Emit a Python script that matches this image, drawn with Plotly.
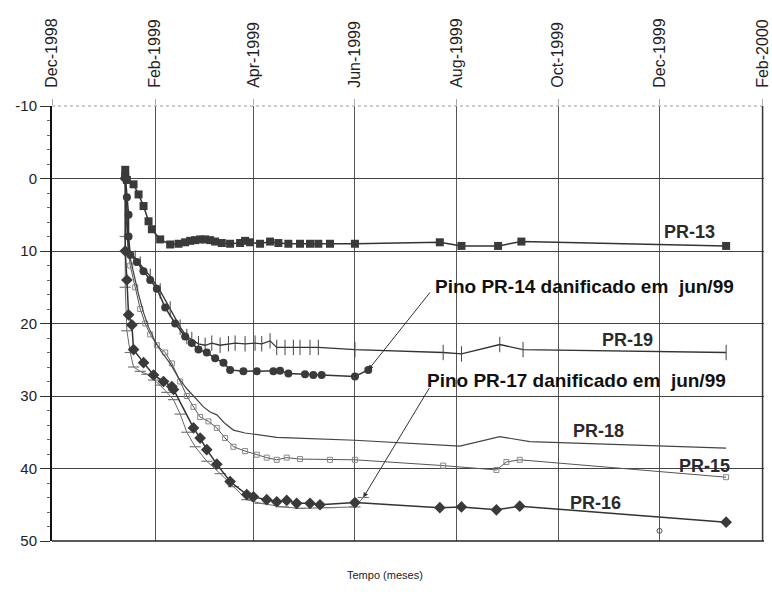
import plotly.graph_objects as go

# ---------------- data ----------------
tick_dates = ["1998-12-01", "1999-02-01", "1999-04-01", "1999-06-01",
              "1999-08-01", "1999-10-01", "1999-12-01", "2000-02-01"]
tick_labels = ["Dec-1998", "Feb-1999", "Apr-1999", "Jun-1999",
               "Aug-1999", "Oct-1999", "Dec-1999", "Feb-2000"]
y_ticks = [-10, 0, 10, 20, 30, 40, 50]
y_tick_labels = ["-10", "0", "10", "20", "30", "40", "50"]

pr13_x = ["1999-01-14", "1999-01-14", "1999-01-15", "1999-01-19", "1999-01-22", "1999-01-25",
          "1999-01-28", "1999-01-30", "1999-02-04", "1999-02-10", "1999-02-15", "1999-02-19",
          "1999-02-22", "1999-02-25", "1999-02-28", "1999-03-03", "1999-03-06", "1999-03-09",
          "1999-03-13", "1999-03-18", "1999-03-24", "1999-03-27", "1999-03-30", "1999-04-05",
          "1999-04-11", "1999-04-16", "1999-04-22", "1999-04-29", "1999-05-05", "1999-05-10",
          "1999-05-17", "1999-06-01", "1999-07-22", "1999-08-04", "1999-08-26", "1999-09-09",
          "2000-01-10"]
pr13_y = [-1.2, -0.3, 0.2, 0.8, 2.2, 3.8, 5.9, 7.0, 8.4, 9.1, 9.0, 8.8, 8.6, 8.5, 8.4, 8.4, 8.5,
          8.7, 8.9, 9.0, 8.9, 8.6, 8.8, 9.0, 8.7, 8.9, 9.0, 9.0, 9.0, 9.0, 9.0, 9.0, 8.8, 9.3,
          9.3, 8.7, 9.3]

pr14_x = ["1999-01-14", "1999-01-15", "1999-01-16", "1999-01-16", "1999-01-17", "1999-01-21",
          "1999-01-25", "1999-01-29", "1999-02-02", "1999-02-07", "1999-02-13", "1999-02-19",
          "1999-02-23", "1999-02-27", "1999-03-04", "1999-03-09", "1999-03-14", "1999-03-18",
          "1999-03-26", "1999-04-03", "1999-04-13", "1999-04-17", "1999-04-22", "1999-05-02",
          "1999-05-07", "1999-05-12", "1999-06-01", "1999-06-09"]
pr14_y = [-0.5, 2.6, 5.0, 8.0, 10.5, 11.5, 12.8, 14.0, 15.2, 17.8, 20.0, 21.8, 22.7, 23.6, 24.0,
          24.8, 25.4, 26.4, 26.6, 26.6, 26.6, 26.5, 26.9, 27.0, 27.1, 27.1, 27.3, 26.4]

pr19_x = ["1999-01-14", "1999-01-15", "1999-01-16", "1999-01-20", "1999-01-23", "1999-01-29",
          "1999-02-04", "1999-02-10", "1999-02-16", "1999-02-20", "1999-02-23", "1999-02-27",
          "1999-03-03", "1999-03-07", "1999-03-12", "1999-03-17", "1999-03-21", "1999-03-27",
          "1999-04-02", "1999-04-06", "1999-04-11", "1999-04-15", "1999-04-20", "1999-04-25",
          "1999-04-29", "1999-05-05", "1999-05-10", "1999-06-01", "1999-07-24", "1999-08-04",
          "1999-08-27", "1999-09-10", "2000-01-10"]
pr19_y = [0, 5, 10, 11, 11.8, 13.5, 15.5, 18, 20.5, 21.8, 22.2, 22.8, 23.0, 22.7, 23.0, 22.8,
          22.7, 22.8, 22.7, 22.8, 22.4, 23.3, 23.3, 23.3, 23.3, 23.3, 23.3, 23.6, 24.0, 24.2,
          22.9, 23.6, 24.0]

pr18_x = ["1999-01-14", "1999-01-15", "1999-01-16", "1999-01-19", "1999-01-22", "1999-01-25",
          "1999-01-28", "1999-02-01", "1999-02-05", "1999-02-10", "1999-02-15", "1999-02-20",
          "1999-02-25", "1999-03-02", "1999-03-06", "1999-03-10", "1999-03-15", "1999-03-20",
          "1999-03-27", "1999-04-03", "1999-04-15", "1999-04-27", "1999-06-01", "1999-08-03",
          "1999-08-27", "1999-09-14", "2000-01-10"]
pr18_y = [0, 6, 10, 13, 16, 18.5, 20.5, 22.5, 24, 25.5, 27.5, 29, 30.3, 31.5, 32.2, 32.6, 33.8,
          34.7, 35.1, 35.3, 35.7, 35.8, 36.1, 36.9, 35.6, 36.3, 37.2]

pr15_x = ["1999-01-14", "1999-01-15", "1999-01-17", "1999-01-20", "1999-01-23", "1999-01-26",
          "1999-01-29", "1999-02-02", "1999-02-07", "1999-02-11", "1999-02-16", "1999-02-20",
          "1999-02-24", "1999-02-28", "1999-03-05", "1999-03-10", "1999-03-15", "1999-03-20",
          "1999-03-27", "1999-04-03", "1999-04-09", "1999-04-15", "1999-04-21", "1999-04-29",
          "1999-05-17", "1999-06-01", "1999-07-24", "1999-08-25", "1999-08-31", "1999-09-08",
          "2000-01-10"]
pr15_y = [0, 8, 12, 15, 18, 20, 21.5, 23, 24, 25.5, 28, 30, 31.5, 32.9, 33.5, 34.4, 35.8, 37,
          37.6, 38.1, 38.5, 38.8, 38.5, 38.7, 38.8, 38.8, 39.6, 40.2, 39.1, 38.8, 41.2]

pr16_x = ["1999-01-14", "1999-01-14", "1999-01-15", "1999-01-16", "1999-01-18", "1999-01-19",
          "1999-01-25", "1999-01-31", "1999-02-06", "1999-02-11", "1999-02-12", "1999-02-24",
          "1999-02-28", "1999-03-04", "1999-03-10", "1999-03-18", "1999-03-28", "1999-04-01",
          "1999-04-09", "1999-04-15", "1999-04-21", "1999-04-27", "1999-05-05", "1999-05-11",
          "1999-06-01", "1999-07-22", "1999-08-04", "1999-08-25", "1999-09-08", "2000-01-10"]
pr16_y = [0, 10, 14, 18.8, 20.2, 23.6, 25.4, 27.1, 28, 28.7, 29.1, 34.4, 35.8, 37.4, 39.4, 41.8,
          43.6, 43.9, 44.3, 44.6, 44.4, 44.8, 44.8, 45.0, 44.7, 45.4, 45.3, 45.7, 45.2, 47.4]

pr17_x = ["1999-01-14", "1999-01-14", "1999-01-14", "1999-01-15", "1999-01-17", "1999-01-19",
          "1999-01-23", "1999-01-27", "1999-01-31", "1999-02-04", "1999-02-08", "1999-02-12",
          "1999-02-16", "1999-02-20", "1999-02-25", "1999-03-04", "1999-03-12", "1999-03-20",
          "1999-03-28", "1999-04-05", "1999-04-19", "1999-04-29", "1999-05-17", "1999-06-01",
          "1999-06-06"]
pr17_y = [0, 8, 15, 21, 24, 26, 26.6, 27, 27.8, 28.5, 29.5, 30.5, 32.5, 35, 37, 39, 40.7, 42.5,
          44.3, 44.8, 45.3, 45.5, 45.4, 45.3, 44.0]

stray_x = ["1999-12-01"]
stray_y = [48.6]

FONT = "Arial, 'Liberation Sans', sans-serif"
DARK = "#333333"

fig = go.Figure()

fig.add_trace(go.Scatter(x=pr15_x, y=pr15_y, mode="lines+markers", name="PR-15",
                         line=dict(color="#555555", width=1),
                         marker=dict(symbol="square-open", size=5, color="#888888",
                                     line=dict(width=1, color="#888888"))))
fig.add_trace(go.Scatter(x=pr18_x, y=pr18_y, mode="lines", name="PR-18",
                         line=dict(color="#444444", width=1.2)))
fig.add_trace(go.Scatter(x=pr17_x, y=pr17_y, mode="lines+markers", name="PR-17",
                         line=dict(color="#666666", width=1),
                         marker=dict(symbol="line-ew", size=8,
                                     line=dict(width=1.2, color="#777777"))))
fig.add_trace(go.Scatter(x=pr16_x, y=pr16_y, mode="lines+markers", name="PR-16",
                         line=dict(color=DARK, width=1.5),
                         marker=dict(symbol="diamond", size=9, color="#3a3a3a")))
fig.add_trace(go.Scatter(x=pr19_x, y=pr19_y, mode="lines+markers", name="PR-19",
                         line=dict(color=DARK, width=1.3),
                         marker=dict(symbol="line-ns", size=11,
                                     line=dict(width=1, color="#444444"))))
fig.add_trace(go.Scatter(x=pr14_x, y=pr14_y, mode="lines+markers", name="PR-14",
                         line=dict(color=DARK, width=1.5),
                         marker=dict(symbol="circle", size=8, color="#3a3a3a")))
fig.add_trace(go.Scatter(x=pr13_x, y=pr13_y, mode="lines+markers", name="PR-13",
                         line=dict(color=DARK, width=1.5),
                         marker=dict(symbol="square", size=8, color="#3a3a3a")))
fig.add_trace(go.Scatter(x=stray_x, y=stray_y, mode="markers", name="",
                         marker=dict(symbol="circle-open", size=5, color="#555555")))

annotations = [
    dict(text="PR-13", x=0.896, y=0.710),
    dict(text="PR-19", x=0.808, y=0.462),
    dict(text="PR-18", x=0.767, y=0.253),
    dict(text="PR-15", x=0.916, y=0.172),
    dict(text="PR-16", x=0.764, y=0.087),
]
for a in annotations:
    fig.add_annotation(text="<b>" + a["text"] + "</b>", x=a["x"], y=a["y"],
                       xref="paper", yref="paper",
                       showarrow=False, xanchor="center", yanchor="middle",
                       font=dict(family=FONT, size=18, color="#2a2a2a"))

fig.add_annotation(text="<b>Pino PR-14 danificado em  jun/99</b>", x=0.535, y=0.584,
                   xref="paper", yref="paper", showarrow=False, xanchor="left",
                   yanchor="middle", font=dict(family=FONT, size=19, color="#111111"))
fig.add_annotation(text="<b>Pino PR-17 danificado em  jun/99</b>", x=0.524, y=0.370,
                   xref="paper", yref="paper", showarrow=False, xanchor="left",
                   yanchor="middle", font=dict(family=FONT, size=19, color="#111111"))

fig.add_annotation(text="", x=pr14_x[-1], y=pr14_y[-1], ax=63, ay=-79,
                   showarrow=True, arrowhead=2, arrowsize=1, arrowwidth=1, arrowcolor=DARK)
fig.add_annotation(text="", x=pr17_x[-1], y=pr17_y[-1], ax=67, ay=-111,
                   showarrow=True, arrowhead=2, arrowsize=1, arrowwidth=1, arrowcolor=DARK)

fig.add_annotation(text="Tempo (meses)", x=0.468, y=0, xref="paper", yref="paper",
                   yshift=-34, showarrow=False, xanchor="center", yanchor="middle",
                   font=dict(family=FONT, size=11, color="#222222"))

# frame lines
fig.add_shape(type="line", xref="paper", yref="paper", x0=0, x1=1, y0=0, y1=0,
              line=dict(color="#222222", width=1.5))
fig.add_shape(type="line", xref="paper", yref="paper", x0=0, x1=1, y0=1, y1=1,
              line=dict(color="#999999", width=1, dash="dot"))
fig.add_shape(type="line", xref="paper", yref="paper", x0=0.998, x1=0.998, y0=0, y1=1,
              line=dict(color="#333333", width=1.5))

fig.update_layout(
    width=772, height=597,
    margin=dict(l=52, r=8, t=106, b=56),
    paper_bgcolor="white", plot_bgcolor="white",
    showlegend=False,
    font=dict(family=FONT, color="#222222"),
    xaxis=dict(type="date", side="top", range=["1998-12-01", "2000-02-01 18:00"],
               tickvals=tick_dates, ticktext=tick_labels, tickangle=-90,
               tickfont=dict(size=16, color="#222222"),
               ticks="outside", ticklen=6, tickcolor="#aaaaaa",
               ticklabelstandoff=8, automargin=False,
               showgrid=True, gridcolor="#555555", gridwidth=1,
               showline=False, zeroline=False),
    yaxis=dict(range=[50, -10], tickvals=y_ticks, ticktext=y_tick_labels,
               tickfont=dict(size=15, color="#222222"),
               ticks="outside", ticklen=10, tickcolor="#333333",
               minor=dict(dtick=2, ticks="outside", ticklen=3, tickcolor="#666666",
                          showgrid=False),
               automargin=False,
               showgrid=True, gridcolor="#444444", gridwidth=1.3,
               showline=True, linecolor="#111111", linewidth=2, mirror=False,
               zeroline=False),
)

fig.write_html("out.html", config={"displayModeBar": False},
               post_script="document.body.style.margin='0';document.body.style.overflow='hidden';")
